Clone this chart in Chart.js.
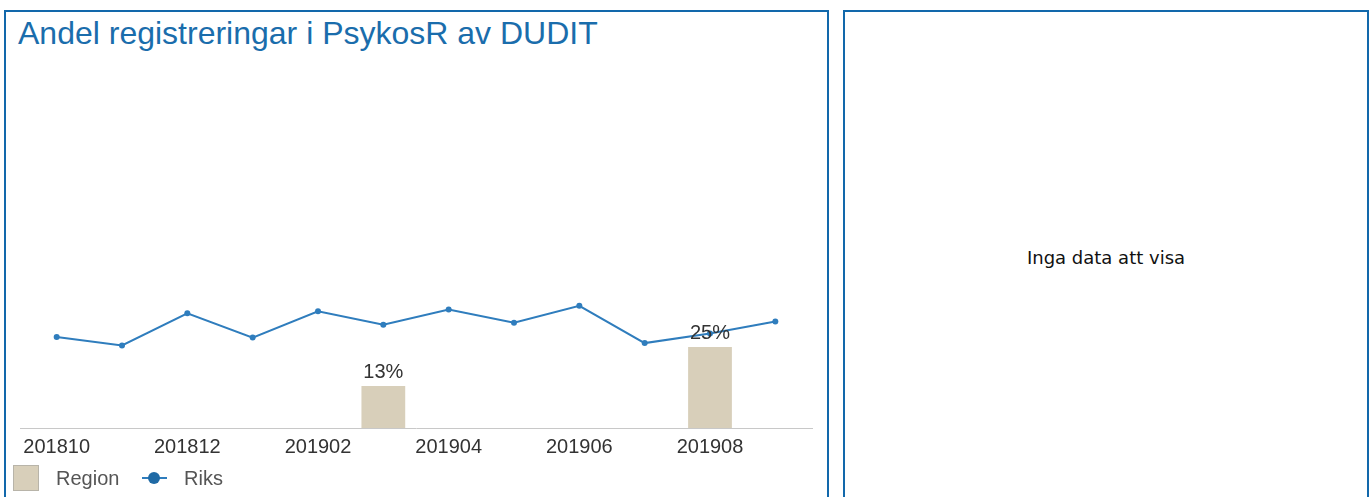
<!DOCTYPE html>
<html>
<head>
<meta charset="utf-8">
<script src="https://cdn.jsdelivr.net/npm/chart.js@4"></script>
<style>
  body { margin: 0; background: #fff; width: 1370px; height: 497px; overflow: hidden; position: relative; }
  .panel { position: absolute; top: 10px; height: 500px; border: 2px solid #1268ab; box-sizing: border-box; }
  #vanster { left: 4px; width: 825px; }
  #hoger { left: 843px; width: 526px; }
  #rubrik { position: absolute; left: 18px; top: 17px; font: 32px/32px "Liberation Sans", Arial, sans-serif; color: #1a6dac; white-space: nowrap; }
  #ingadata { position: absolute; left: 845px; width: 522px; top: 248px; text-align: center; font: 18px/20px "DejaVu Sans", sans-serif; color: #111; }
  #grafen { position: absolute; left: 12px; top: 100px; }
</style>
</head>
<body>
<div class="panel" id="vanster"></div>
<div class="panel" id="hoger"></div>
<div id="rubrik">Andel registreringar i PsykosR av DUDIT</div>
<div id="ingadata">Inga data att visa</div>
<canvas id="grafen" width="812" height="395"></canvas>
<script>
const kategorier = ['201810', '201811', '201812', '201901', '201902', '201903', '201904', '201905', '201906', '201907', '201908', '201909'];
const region = [null, null, null, null, null, 13, null, null, null, null, 25, null];
const riks = [28.1, 25.5, 35.4, 27.9, 36.0, 31.9, 36.6, 32.5, 37.7, 26.2, 29.2, 32.9];

const typsnitt = '"Liberation Sans", Arial, sans-serif';

// x-axelns linje, lite längre än ritytan
const axelLinje = {
  id: 'axelLinje',
  beforeDatasetsDraw(chart) {
    const ctx = chart.ctx;
    const a = chart.chartArea;
    ctx.save();
    ctx.strokeStyle = '#c8c8c8';
    ctx.lineWidth = 1;
    ctx.beginPath();
    ctx.moveTo(a.left - 4, a.bottom + 0.5);
    ctx.lineTo(a.right + 5, a.bottom + 0.5);
    ctx.stroke();
    ctx.restore();
  }
};

// etiketter ovanför staplarna
const stapelEtiketter = {
  id: 'stapelEtiketter',
  afterDatasetsDraw(chart) {
    const ctx = chart.ctx;
    const meta = chart.getDatasetMeta(0);
    ctx.save();
    ctx.font = '20px ' + typsnitt;
    ctx.fillStyle = '#333';
    ctx.textAlign = 'center';
    ctx.textBaseline = 'alphabetic';
    meta.data.forEach(function(bar, i) {
      if (region[i] == null) return;
      ctx.fillText(region[i] + '%', bar.x, bar.y - 8);
    });
    ctx.restore();
  }
};

// egen förklaring längst ner
const forklaring = {
  id: 'forklaring',
  afterDraw(chart) {
    const ctx = chart.ctx;
    ctx.save();
    ctx.fillStyle = '#d8cfba';
    ctx.fillRect(1, 365, 26, 26);
    ctx.strokeStyle = '#999';
    ctx.setLineDash([1, 1]);
    ctx.lineWidth = 1;
    ctx.strokeRect(1.5, 365.5, 25, 25);
    ctx.setLineDash([]);

    ctx.strokeStyle = '#2f7dbd';
    ctx.lineWidth = 2;
    ctx.beginPath();
    ctx.moveTo(130, 378);
    ctx.lineTo(155, 378);
    ctx.stroke();
    ctx.fillStyle = '#1f6aa5';
    ctx.beginPath();
    ctx.arc(142, 378, 6, 0, Math.PI * 2);
    ctx.fill();

    ctx.font = '20px ' + typsnitt;
    ctx.fillStyle = '#555';
    ctx.textBaseline = 'middle';
    ctx.textAlign = 'left';
    ctx.fillText('Region', 44, 379);
    ctx.fillText('Riks', 172, 379);
    ctx.restore();
  }
};

new Chart(document.getElementById('grafen'), {
  type: 'bar',
  data: {
    labels: kategorier,
    datasets: [{
      type: 'bar',
      label: 'Region',
      data: region,
      backgroundColor: '#d8cfba',
      categoryPercentage: 1,
      barPercentage: 0.67,
      order: 1
    }, {
      type: 'line',
      label: 'Riks',
      data: riks,
      borderColor: '#2f7dbd',
      backgroundColor: '#2f7dbd',
      borderWidth: 2,
      pointRadius: 3,
      pointBackgroundColor: '#2f7dbd',
      pointBorderWidth: 0,
      tension: 0,
      order: 0
    }]
  },
  options: {
    responsive: false,
    animation: false,
    layout: { padding: { left: 12, right: 16, top: 4, bottom: 0 } },
    plugins: {
      legend: { display: false },
      tooltip: { enabled: false }
    },
    scales: {
      x: {
        offset: true,
        grid: { display: false, drawTicks: false },
        border: { display: false },
        ticks: {
          autoSkip: false,
          maxRotation: 0,
          padding: 7,
          color: '#333',
          font: { family: typsnitt, size: 20 },
          callback: function(v, i) { return i % 2 === 0 ? kategorier[i] : ''; }
        },
        afterFit: function(s) { s.height = 67; }
      },
      y: {
        display: false,
        min: 0,
        max: 100
      }
    }
  },
  plugins: [axelLinje, stapelEtiketter, forklaring]
});
</script>
</body>
</html>
